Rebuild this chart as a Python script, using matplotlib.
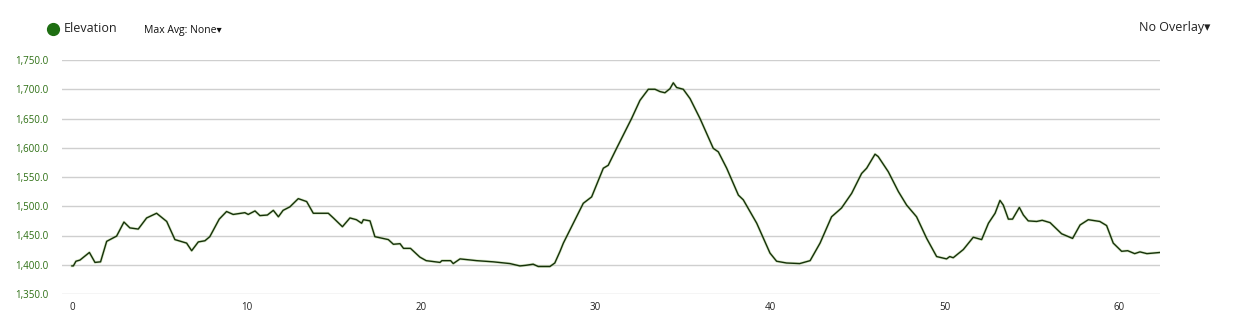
import numpy as np
import matplotlib.pyplot as plt
from matplotlib.ticker import FuncFormatter

# distance (km) and elevation (m)
dist = [0.0, 0.08, 0.23, 0.46, 1.0, 1.32, 1.64, 1.99, 2.56, 2.98, 3.32, 3.8, 4.28, 4.85,
        5.43, 5.9, 6.57, 6.86, 7.24, 7.62, 7.9, 8.44, 8.86, 9.24, 9.91, 10.1, 10.49,
        10.77, 11.2, 11.54, 11.83, 12.1, 12.49, 12.97, 13.45, 13.83, 14.69, 14.98,
        15.5, 15.93, 16.3, 16.6, 16.7, 17.08, 17.36, 18.13, 18.42, 18.8, 19.0, 19.4,
        19.94, 20.3, 21.09, 21.2, 21.7, 21.85, 22.24, 23.19, 24.14, 25.1, 25.67, 26.0,
        26.43, 26.72, 27.39, 27.67, 27.97, 28.16, 28.73, 29.3, 29.78, 30.45, 30.73,
        31.21, 32.07, 32.55, 33.03, 33.41, 33.7, 33.98, 34.27, 34.46, 34.65, 35.03,
        35.42, 35.99, 36.75, 37.04, 37.52, 38.19, 38.47, 39.24, 40.0, 40.38, 40.95,
        41.7, 42.3, 42.87, 43.53, 44.1, 44.68, 45.25, 45.54, 46.02, 46.2, 46.78, 47.36,
        47.83, 48.4, 48.98, 49.55, 50.12, 50.3, 50.5, 51.08, 51.65, 52.13, 52.52, 52.9,
        53.18, 53.37, 53.66, 53.9, 54.29, 54.52, 54.8, 55.28, 55.6, 56.05, 56.71, 57.34,
        57.77, 58.24, 58.9, 59.29, 59.67, 60.15, 60.5, 60.9, 61.2, 61.6, 62.35]
elev = [1398, 1398, 1406, 1408, 1421, 1404, 1405, 1440, 1449, 1473, 1463, 1461, 1480, 1488,
        1474, 1443, 1437, 1424, 1439, 1441, 1448, 1478, 1491, 1486, 1489, 1486, 1492,
        1484, 1485, 1493, 1482, 1493, 1499, 1513, 1508, 1488, 1488, 1480,
        1465, 1480, 1477, 1471, 1477, 1475, 1448, 1443, 1435, 1436, 1428, 1428,
        1413, 1407, 1404, 1407, 1407, 1402, 1410, 1407, 1405, 1402, 1398, 1399,
        1401, 1397, 1397, 1403, 1423, 1437, 1471, 1505, 1516, 1565, 1570,
        1599, 1650, 1681, 1700, 1700, 1696, 1694, 1701, 1711, 1703, 1700,
        1684, 1650, 1599, 1593, 1565, 1519, 1511, 1471, 1420, 1406, 1403,
        1402, 1407, 1437, 1482, 1497, 1522, 1556, 1565, 1589, 1585, 1559, 1525,
        1502, 1482, 1445, 1414, 1410, 1414, 1412, 1426, 1447, 1443, 1471, 1488,
        1510, 1502, 1478, 1478, 1498, 1485, 1475, 1474, 1476, 1472, 1453, 1445,
        1468, 1477, 1474, 1467, 1437, 1423, 1424, 1419, 1422, 1419, 1421]

yticks = [1350, 1400, 1450, 1500, 1550, 1600, 1650, 1700, 1750]
xticks = [0, 10, 20, 30, 40, 50, 60]

plt.rcParams['font.family'] = ['Open Sans', 'DejaVu Sans']

fig = plt.figure(figsize=(12.37, 3.32), dpi=100)
ax = fig.add_axes([62 / 1237, 38 / 332, 1098 / 1237, 234 / 332])

ax.plot(dist, elev, color='#7cb342', lw=2.0, alpha=0.3, solid_joinstyle='round')
ax.plot(dist, elev, color='#15300a', lw=1.0, solid_joinstyle='round')

ax.set_xlim(-0.57, 62.35)
ax.set_ylim(1350, 1750)
ax.set_yticks(yticks)
ax.set_xticks(xticks)
ax.yaxis.set_major_formatter(FuncFormatter(lambda v, p: f'{v:,.1f}'))
ax.grid(axis='y', color='#cfcfcf', lw=1)
ax.set_axisbelow(True)
for s in ax.spines.values():
    s.set_visible(False)
ax.tick_params(length=0)
ax.tick_params(axis='y', labelsize=7, labelcolor='#2c6e12', pad=10)
ax.tick_params(axis='x', labelsize=7, labelcolor='#222222', pad=6)

# header
fig.add_artist(plt.Line2D([53 / 1237], [1 - 29 / 332], marker='o', markersize=8.5,
                          color='#1e6e12', transform=fig.transFigure))
fig.text(64 / 1237, 1 - 29 / 332, 'Elevation', fontsize=9, color='#222222', va='center')
fig.text(144 / 1237, 1 - 30 / 332, 'Max Avg: None\u25be', fontsize=7.5, color='#111111', va='center')
fig.text(1210 / 1237, 1 - 28 / 332, 'No Overlay\u25be', fontsize=9, color='#222222', va='center', ha='right')

fig.savefig('out.png', dpi=100)
